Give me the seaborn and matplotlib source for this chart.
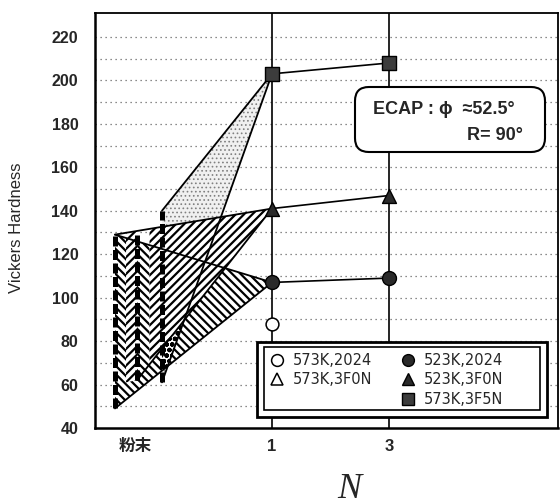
import numpy as np
import pandas as pd
import matplotlib
matplotlib.use("Agg")
import matplotlib.pyplot as plt
import seaborn as sns
from matplotlib.patches import Polygon, Rectangle, FancyBboxPatch
from matplotlib.lines import Line2D

# ---------------- data ----------------
categories = ["粉末", "1", "3"]
N_values = [1, 3]
s523_2024 = [107, 109]
s523_3F0N = [141, 147]
s573_3F5N = [203, 208]
s573_2024 = [88]
powder_low = [49, 62, 61]
powder_high = [129, 129, 140]
series_labels = ["573K,2024", "523K,2024", "573K,3F0N", "523K,3F0N", "573K,3F5N"]
y_ticks = [40, 60, 80, 100, 120, 140, 160, 180, 200, 220]

# ---------------- layout ----------------
cat_pos = {"粉末": 0.0, "1": 1.0, "3": 1.854}
bar_offsets = [-0.146, 0.015, 0.197]
AX_L, AX_W, AX_B, AX_H = 95, 463, 428, 415


def fx(px):
    return (px - AX_L) / AX_W


def fy(py):
    return (AX_B - py) / AX_H


sns.set_style("white")
plt.rcParams["font.family"] = ["Liberation Sans", "Noto Sans CJK JP", "DejaVu Sans"]

fig = plt.figure(figsize=(5.6, 5.04), dpi=100)
ax = fig.add_axes([AX_L / 560, 1 - AX_B / 504, AX_W / 560, AX_H / 504])
ax.set_xlim(-0.292, 3.088)
ax.set_ylim(40, 231)

# grid
for yv in range(50, 230, 10):
    ax.axhline(yv, color="0.4", lw=0.9, ls=(0, (1, 3)), zorder=0.5)
for c in ["1", "3"]:
    ax.axvline(cat_pos[c], color="black", lw=1.2, zorder=1)

xA, xB, xC = [cat_pos["粉末"] + o for o in bar_offsets]
x1 = cat_pos["1"]


def line_y(p, q, x):
    return p[1] + (x - p[0]) / (q[0] - p[0]) * (q[1] - p[1])


pA_top = (xA, powder_high[0])
pA_bot = (xA, powder_low[0])
pB_bot = (xB, powder_low[1])
pC_top = (xC, powder_high[2])
pC_bot = (xC, powder_low[2])
q_2024 = (x1, s523_2024[0])
q_3F0N = (x1, s523_3F0N[0])
q_3F5N = (x1, s573_3F5N[0])

# 573K,3F5N region (stipple)
with plt.rc_context({"hatch.linewidth": 0.7}):
    T3 = Polygon([pC_top, pC_bot, q_3F5N], closed=True, facecolor="0.94",
                 edgecolor="0.5", hatch="....", lw=0, zorder=2)
ax.add_patch(T3)

with plt.rc_context({"hatch.linewidth": 1.6}):
    # 523K,2024 region
    T1 = Polygon([pA_top, pA_bot, q_2024], closed=True, facecolor="white",
                 edgecolor="black", hatch="\\\\\\\\", lw=0, zorder=3)
    ax.add_patch(T1)
    # circles where 3F5N region lies over 2024 region
    Tc = Polygon([pC_top, pC_bot, q_3F5N], closed=True, facecolor="white",
                 edgecolor="black", hatch="ooo", lw=0, zorder=3.2)
    ax.add_patch(Tc)
    Tc.set_clip_path(T1)
    # 523K,3F0N region: main part right of bar C plus right halves of strips
    mAB = (xA + xB) / 2
    mBC = (xB + xC) / 2
    top = lambda x: line_y(pA_top, q_3F0N, x)
    bot = lambda x: line_y(pB_bot, q_3F0N, x)
    polys = [
        [(xC, top(xC)), q_3F0N, (xC, bot(xC))],
        [(mBC, top(mBC)), (xC, top(xC)), (xC, bot(xC)), (mBC, bot(mBC))],
        [(mAB, top(mAB)), (xB, top(xB)), (xB, powder_low[1]), (mAB, powder_low[1] - 1)],
    ]
    for pts in polys:
        ax.add_patch(Polygon(pts, closed=True, facecolor="white", edgecolor="black",
                             hatch="////", lw=0, zorder=4))

edges = [
    (pA_top, q_2024), (pA_bot, q_2024),
    (pA_top, q_3F0N), (pB_bot, q_3F0N),
    (pC_top, q_3F5N), (pC_bot, q_3F5N),
]
for (a, b) in edges:
    ax.plot([a[0], b[0]], [a[1], b[1]], color="black", lw=1.3, zorder=5)

# powder range bars
for xo, lo, hi in zip([xA, xB, xC], powder_low, powder_high):
    ax.plot([xo, xo], [lo, hi], color="black", lw=3.6, ls=(0, (2.0, 0.7)),
            solid_capstyle="butt", zorder=6)

# ECAP series
xs = [cat_pos[str(n)] for n in N_values]
df = pd.DataFrame({
    "x": xs * 3,
    "H": s523_2024 + s523_3F0N + s573_3F5N,
    "series": ["523K,2024"] * 2 + ["523K,3F0N"] * 2 + ["573K,3F5N"] * 2,
})
sns.lineplot(data=df, x="x", y="H", units="series", estimator=None,
             color="black", lw=1.2, ax=ax, zorder=7, legend=False)
mk = {"523K,2024": "o", "523K,3F0N": "^", "573K,3F5N": "s"}
fc = {"523K,2024": "#2a2a2a", "523K,3F0N": "#2a2a2a", "573K,3F5N": "#3c3c3c"}
sz = {"523K,2024": 100, "523K,3F0N": 100, "573K,3F5N": 95}
for s, g in df.groupby("series"):
    sns.scatterplot(data=g, x="x", y="H", marker=mk[s], s=sz[s], color=fc[s],
                    edgecolor="black", linewidth=1.0, ax=ax, zorder=8, legend=False)
df2 = pd.DataFrame({"x": [cat_pos["1"]], "H": s573_2024})
sns.scatterplot(data=df2, x="x", y="H", marker="o", s=85, facecolor="white",
                edgecolor="black", linewidth=1.1, ax=ax, zorder=8, legend=False)

# axes styling
ax.set_xticks([cat_pos[c] for c in categories])
ax.set_xticklabels(categories, fontsize=12, fontweight="bold")
ax.set_yticks(y_ticks)
ax.set_yticklabels([str(v) for v in y_ticks], fontsize=11.5, fontweight="bold")
ax.tick_params(axis="both", length=0)
ax.tick_params(axis="x", pad=8)
ax.tick_params(axis="y", pad=12)
ax.set_xlabel("")
ax.set_ylabel("")
for side in ["left", "bottom"]:
    ax.spines[side].set_linewidth(1.8)
    ax.spines[side].set_color("black")
for side in ["top", "right"]:
    ax.spines[side].set_linewidth(1.3)
    ax.spines[side].set_linestyle((0, (3, 1)))
    ax.spines[side].set_color("black")

# legend with double frame
outer = Rectangle((fx(257), fy(417)), (547 - 257) / AX_W, (417 - 342) / AX_H,
                  transform=ax.transAxes, facecolor="white", edgecolor="black",
                  lw=2.0, zorder=9.5)
inner = Rectangle((fx(264), fy(410)), (540 - 264) / AX_W, (410 - 347) / AX_H,
                  transform=ax.transAxes, facecolor="white", edgecolor="black",
                  lw=1.2, zorder=9.6)
ax.add_patch(outer)
ax.add_patch(inner)
h = [
    Line2D([], [], ls="", marker="o", ms=8.5, mfc="white", mec="black", mew=1.1),
    Line2D([], [], ls="", marker="^", ms=8.5, mfc="white", mec="black", mew=1.1),
    Line2D([], [], ls="", marker=None),
    Line2D([], [], ls="", marker="o", ms=8.5, mfc="#2a2a2a", mec="black"),
    Line2D([], [], ls="", marker="^", ms=8.5, mfc="#2a2a2a", mec="black"),
    Line2D([], [], ls="", marker="s", ms=8, mfc="#3c3c3c", mec="black"),
]
lab = [series_labels[0], series_labels[2], "", series_labels[1], series_labels[3], series_labels[4]]
leg = ax.legend(h, lab, ncol=2, loc="upper left", bbox_to_anchor=(fx(264), fy(347)),
                frameon=False, prop={"family": "DejaVu Sans", "size": 10.5},
                handletextpad=0.55, handlelength=1.0, borderpad=0.4,
                labelspacing=0.32, columnspacing=2.0, borderaxespad=0)
leg.set_zorder(10)

# ECAP annotation
box = FancyBboxPatch((fx(355), fy(152)), (545 - 355) / AX_W, (152 - 87) / AX_H,
                     boxstyle="round,pad=0,rounding_size=0.03", transform=ax.transAxes,
                     facecolor="white", edgecolor="black", lw=1.5, zorder=11,
                     mutation_aspect=AX_W / AX_H)
ax.add_patch(box)
ax.text(fx(373), fy(110), "ECAP : ϕ  ≈52.5°", transform=ax.transAxes, ha="left",
        va="center", fontsize=13, fontweight="bold",
        family=["Liberation Sans", "DejaVu Sans"], zorder=12)
ax.text(fx(523), fy(136), "R= 90°", transform=ax.transAxes, ha="right",
        va="center", fontsize=13, fontweight="bold",
        family=["Liberation Sans", "DejaVu Sans"], zorder=12)

fig.text(17 / 560, 1 - 228 / 504, "Vickers Hardness", rotation=90, ha="center",
         va="center", fontsize=12, color="0.15")
fig.text(349 / 560, 1 - 489 / 504, "N", ha="center", va="center", fontsize=26,
         style="italic", family=["Liberation Serif", "DejaVu Serif"])

fig.savefig("out.png", dpi=100, facecolor="white")
